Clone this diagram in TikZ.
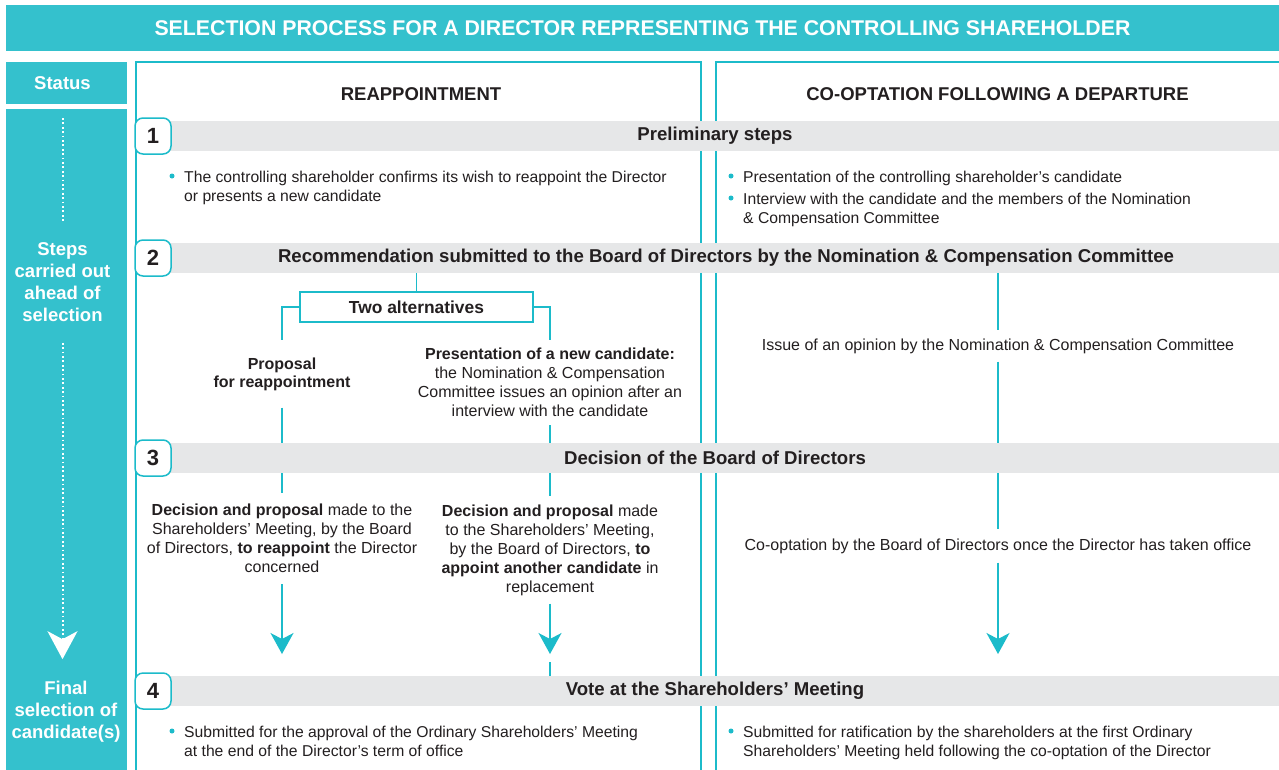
\documentclass[tikz,border=0pt]{standalone}
\usepackage{fontspec}
\setmainfont{Liberation Sans}
\usetikzlibrary{arrows.meta,positioning}

\definecolor{brandteal}{RGB}{52,193,205}
\definecolor{linkteal}{RGB}{28,187,202}
\definecolor{bandgray}{RGB}{230,231,232}
\definecolor{ink}{RGB}{35,31,32}

\tikzset{
  band/.style={fill=bandgray, minimum width=1128pt, minimum height=30pt, inner sep=0pt, outer sep=0pt},
  bandtext/.style={text=ink, inner sep=0pt, font=\fontsize{18.6}{20}\selectfont\bfseries},
  badge/.style={draw=linkteal, line width=1.5pt, fill=white, rounded corners=8pt, minimum size=36pt,
    inner sep=0pt, text=ink, font=\fontsize{22}{22}\selectfont\bfseries},
  colhead/.style={text=ink, font=\fontsize{18.5}{20}\selectfont\bfseries},
  sidebox/.style={fill=brandteal, minimum width=121pt, inner sep=0pt, outer sep=0pt},
  sidetext/.style={text=white, align=center, inner sep=0pt, font=\fontsize{18.5}{22}\selectfont\bfseries},
  body/.style={text=ink, align=center, inner xsep=0pt, inner ysep=8pt, font=\fontsize{16}{19}\selectfont},
  bodybf/.style={body, font=\fontsize{16}{18}\selectfont\bfseries},
  altbox/.style={draw=linkteal, line width=1.5pt, minimum width=233pt, minimum height=30pt, inner sep=0pt,
    text=ink, font=\fontsize{17.4}{20}\selectfont\bfseries},
  item/.style={text=ink, align=left, anchor=base west, inner sep=0pt, font=\fontsize{15.7}{19.5}\selectfont},
  link/.style={draw=linkteal, line width=1.5pt},
  flow/.style={link, -{Stealth[length=21pt, width=23pt, inset=6pt]}, shorten >=22pt},
  dots/.style={draw=white, line width=2pt, dash pattern=on 1.8pt off 2.6pt}
}

\begin{document}
\begin{tikzpicture}[x=1pt, y=-1pt]
  \useasboundingbox (0,0) rectangle (1279,769);
  \fill[white] (0,0) rectangle (1279,769);

  % title bar
  \node[fill=brandteal, minimum width=1273pt, minimum height=46pt, inner sep=0pt, text=white,
    font=\fontsize{21.3}{22}\selectfont\bfseries] (titlebar) at (642.5,28)
    {SELECTION PROCESS FOR A DIRECTOR REPRESENTING THE CONTROLLING SHAREHOLDER};

  % status column
  \node[sidebox, minimum height=42pt] (statusbox) at (66.5,83) {};
  \node[sidetext] (status) at (62.5,83) {Status};
  \node[sidebox, minimum height=680pt, anchor=north] (sidepanel) at (66.5,109) {};
  \node[sidetext] (steps) at (62.5,282) {Steps\\carried out\\ahead of\\selection};
  \node[sidetext] (final) at (66,712) {Final\\selection of\\candidate(s)};
  \coordinate (dtop) at (62.5,118);
  \draw[dots, shorten >=19pt] (dtop) -- (steps.north);
  \draw[dots, -{Stealth[length=28pt, width=30pt, inset=8pt]}, shorten <=21pt, shorten >=22pt]
    (steps.south) -- (steps.south |- final.north);

  % column frames
  \draw[link] (136,780) -- (136,62) -- (701,62) -- (701,780);
  \draw[link] (716,780) -- (716,62) -- (1290,62);
  \node[colhead] (hreap) at (421,94) {REAPPOINTMENT};
  \node[colhead] (hcoopt) at (997.5,94) {CO-OPTATION FOLLOWING A DEPARTURE};

  % step bands
  \node[band] (b1) at (715,136) {};
  \node[band] (b2) at (715,258) {};
  \node[band] (b3) at (715,458) {};
  \node[band] (b4) at (715,691) {};
  \node[bandtext] (t1) at (b1) {Preliminary steps};
  \node[bandtext] (t2) at (726,258) {Recommendation submitted to the Board of Directors by the Nomination \& Compensation Committee};
  \node[bandtext] (t3) at (b3) {Decision of the Board of Directors};
  \node[bandtext] (t4) at (b4) {Vote at the Shareholders’ Meeting};
  \node[badge] (n1) at (153,136) {1};
  \node[badge] (n2) at (153,258) {2};
  \node[badge] (n3) at (153,458) {3};
  \node[badge] (n4) at (153,691) {4};

  % step 1
  \node[item] (i1) at (184,201.5) {The controlling shareholder confirms its wish to reappoint the Director\\or presents a new candidate};
  \node[item] (i2) at (743,182) {Presentation of the controlling shareholder’s candidate};
  \node[item] (i3) at (743,223.5) {Interview with the candidate and the members of the Nomination\\\& Compensation Committee};

  % step 2
  \node[altbox] (alt) at (416.5,307) {Two alternatives};
  \node[bodybf, inner ysep=17pt] (prop) at (282,374) {Proposal\\for reappointment};
  \node[body] (newc) at (550,382.5) {\textbf{Presentation of a new candidate:}\\the Nomination \& Compensation\\Committee issues an opinion after an\\interview with the candidate};
  \node[body] (opin) at (998,346) {Issue of an opinion by the Nomination \& Compensation Committee};
  \draw[link] (b2.south -| alt.north) -- (alt.north);
  \draw[link] (alt.west) -| (prop.north);
  \draw[link] (alt.east) -| (newc.north);
  \draw[link] (prop.south) -- (prop.south |- b3.north);
  \draw[link] (newc.south) -- (newc.south |- b3.north);
  \draw[link] (b2.south -| opin.north) -- (opin.north);
  \draw[link] (opin.south) -- (opin.south |- b3.north);

  % step 3
  \node[body, inner ysep=11pt] (dec1) at (282,538.5) {\textbf{Decision and proposal} made to the\\Shareholders’ Meeting, by the Board\\of Directors, \textbf{to reappoint} the Director\\concerned};
  \node[body] (dec2) at (550,550) {\textbf{Decision and proposal} made\\to the Shareholders’ Meeting,\\by the Board of Directors, \textbf{to}\\\textbf{appoint another candidate} in\\replacement};
  \node[body, inner ysep=9pt] (coopt) at (998,546) {Co-optation by the Board of Directors once the Director has taken office};
  \draw[link] (b3.south -| dec1.north) -- (dec1.north);
  \draw[link] (b3.south -| dec2.north) -- (dec2.north);
  \draw[link] (b3.south -| coopt.north) -- (coopt.north);
  \draw[flow] (dec1.south) -- (dec1.south |- b4.north);
  \draw[flow] (dec2.south) -- (dec2.south |- b4.north);
  \draw[link] (b4.north -| dec2.south) -- ++(0,-14);
  \draw[flow] (coopt.south) -- (coopt.south |- b4.north);

  % step 4
  \node[item] (i4) at (184,756.5) {Submitted for the approval of the Ordinary Shareholders’ Meeting\\at the end of the Director’s term of office};
  \node[item] (i5) at (743,756.5) {Submitted for ratification by the shareholders at the first Ordinary\\Shareholders’ Meeting held following the co-optation of the Director};

  % bullets (on the first line of each item)
  \foreach \n/\k in {i1/1, i2/0, i3/1, i4/1, i5/1}
    \fill[linkteal] ([xshift=-12pt, yshift={6pt+\k*19.5pt}]\n.base west) circle (2.5pt);
\end{tikzpicture}
\end{document}
